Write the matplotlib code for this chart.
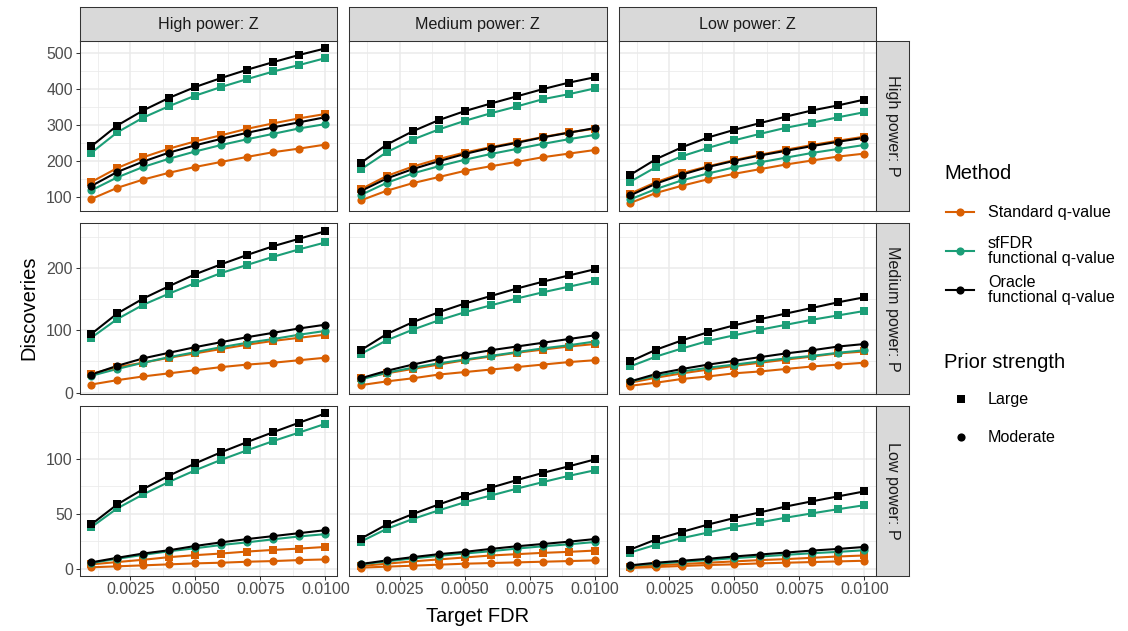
import matplotlib
matplotlib.use("Agg")
import matplotlib.pyplot as plt
from matplotlib.lines import Line2D

plt.rcParams["font.family"] = ["Liberation Sans", "DejaVu Sans"]

# target FDR levels on the x axis
fdr = [0.001, 0.002, 0.003, 0.004, 0.005, 0.006, 0.007, 0.008, 0.009, 0.010]

z_labels = ["High power: Z", "Medium power: Z", "Low power: Z"]
p_labels = ["High power: P", "Medium power: P", "Low power: P"]
x_ticks = [0.0025, 0.0050, 0.0075, 0.0100]
x_ticklabels = ["0.0025", "0.0050", "0.0075", "0.0100"]
y_ticks = [[100, 200, 300, 400, 500], [0, 100, 200], [0, 50, 100]]
y_minor = [[150, 250, 350, 450], [50, 150, 250], [25, 75, 125]]

# discoveries, indexed [P power row][Z power column]
std_large = [
    [[141, 180, 210, 234, 254, 271, 289, 304, 318, 330],
     [121, 158, 184, 205, 223, 238, 252, 266, 279, 289],
     [109, 141, 166, 185, 202, 217, 231, 244, 256, 267]],
    [[30, 41, 48, 56, 63, 70, 77, 83, 88, 93],
     [23, 31, 38, 45, 52, 58, 64, 69, 74, 78],
     [16, 24, 31, 37, 43, 48, 53, 58, 63, 66]],
    [[3.9, 6.0, 8.1, 10.5, 12.3, 13.8, 15.6, 17.1, 18.3, 19.8],
     [2.4, 4.5, 6.6, 8.4, 10.2, 12.0, 13.2, 14.4, 15.3, 16.5],
     [1.5, 3.0, 4.2, 5.4, 6.6, 7.8, 8.7, 9.9, 11.1, 12.0]],
]
std_moderate = [
    [[94, 125, 148, 167, 183, 197, 211, 224, 234, 245],
     [90, 117, 138, 155, 172, 185, 197, 210, 220, 230],
     [83, 111, 131, 149, 164, 177, 190, 201, 212, 220]],
    [[13, 20, 26, 31, 36, 41, 45, 48, 52, 56],
     [12, 18, 23, 29, 33, 37, 41, 45, 49, 52],
     [11, 16, 22, 26, 31, 34, 38, 42, 45, 48]],
    [[1.2, 2.1, 3.0, 3.9, 4.8, 5.4, 6.3, 6.9, 7.8, 8.4],
     [0.9, 1.8, 2.7, 3.6, 4.5, 5.1, 5.7, 6.3, 6.9, 7.5],
     [0.6, 1.5, 2.4, 3.3, 3.9, 4.8, 5.4, 6.0, 6.6, 7.2]],
]
sf_large = [
    [[222, 279, 320, 352, 381, 405, 427, 448, 466, 485],
     [176, 224, 259, 287, 311, 332, 351, 371, 385, 401],
     [142, 183, 213, 236, 257, 275, 292, 306, 321, 335]],
    [[88, 118, 141, 159, 176, 192, 205, 218, 230, 241],
     [62, 84, 101, 116, 129, 140, 151, 161, 170, 179],
     [42, 58, 71, 83, 92, 101, 109, 117, 124, 131]],
    [[37.8, 55.0, 67.8, 79.3, 89.8, 99.4, 108.1, 116.5, 124.3, 132.2],
     [24.6, 36.3, 45.3, 53.2, 60.6, 66.7, 73.0, 79.0, 84.7, 89.8],
     [14.7, 21.9, 27.9, 33.0, 38.1, 42.3, 46.6, 50.5, 54.3, 57.9]],
]
sf_moderate = [
    [[118, 154, 183, 206, 226, 244, 260, 275, 290, 302],
     [105, 139, 165, 185, 203, 219, 233, 247, 260, 272],
     [93, 122, 146, 165, 182, 196, 209, 222, 233, 244]],
    [[27, 38, 48, 57, 65, 73, 80, 86, 93, 99],
     [21, 32, 40, 47, 53, 59, 65, 71, 76, 82],
     [18, 27, 34, 40, 45, 50, 55, 59, 64, 68]],
    [[5.1, 9.0, 12.6, 15.9, 18.6, 21.6, 24.0, 26.8, 29.4, 31.5],
     [3.9, 6.6, 9.3, 11.7, 13.8, 15.9, 18.3, 20.4, 22.2, 24.3],
     [2.7, 4.5, 6.3, 7.8, 9.6, 11.1, 12.6, 14.1, 15.3, 16.8]],
]
oracle_large = [
    [[240, 298, 340, 375, 405, 430, 453, 474, 494, 512],
     [194, 245, 282, 313, 338, 359, 379, 399, 417, 432],
     [161, 205, 238, 265, 286, 305, 323, 340, 354, 370]],
    [[94, 127, 151, 171, 190, 206, 221, 235, 247, 259],
     [68, 94, 113, 129, 143, 155, 167, 178, 188, 198],
     [50, 69, 84, 97, 108, 118, 127, 136, 145, 153]],
    [[40.3, 58.6, 72.7, 85.0, 96.1, 106.3, 115.6, 124.6, 133.3, 141.7],
     [27.3, 40.3, 49.8, 58.6, 66.7, 73.9, 80.8, 87.4, 93.4, 99.7],
     [17.4, 26.7, 33.6, 40.3, 46.2, 51.4, 56.8, 61.5, 66.0, 70.5]],
]
oracle_moderate = [
    [[130, 169, 198, 223, 243, 261, 278, 293, 307, 321],
     [116, 151, 177, 199, 219, 236, 250, 265, 278, 291],
     [104, 137, 162, 183, 200, 215, 228, 241, 253, 264]],
    [[29, 43, 55, 64, 73, 81, 89, 96, 103, 109],
     [23, 35, 45, 54, 61, 68, 74, 80, 86, 92],
     [18, 30, 38, 45, 51, 57, 63, 68, 74, 78]],
    [[5.7, 9.9, 13.8, 16.8, 20.7, 24.0, 27.0, 29.7, 32.4, 35.1],
     [4.2, 7.5, 10.5, 13.2, 15.3, 18.0, 20.4, 22.5, 24.6, 27.0],
     [3.0, 5.4, 7.2, 9.0, 11.1, 12.9, 14.7, 16.5, 18.0, 19.8]],
]

methods = [
    ("Standard q-value", "#D95F02", std_large, std_moderate),
    ("sfFDR\nfunctional q-value", "#1B9E77", sf_large, sf_moderate),
    ("Oracle\nfunctional q-value", "#000000", oracle_large, oracle_moderate),
]

W, H = 1128, 631
fig = plt.figure(figsize=(W / 100, H / 100), dpi=100)


def box(x0, y0, w, h):
    # axes placed in pixel units measured from the top-left corner
    return fig.add_axes([x0 / W, 1 - (y0 + h) / H, w / W, h / H])


def fx(x):
    return x / W


def fy(y):
    return 1 - y / H


col_x = [79.5, 349.0, 618.5]
row_y = [40.7, 223.5, 405.7]
pw, ph = 257.5, 170.0
grey20 = "#333333"
grid = "#EBEBEB"
tick_col = "#4D4D4D"
lw = 1.5
ms_sq, ms_ci = 5.4, 5.9

xlo = fdr[0] - 0.05 * (fdr[-1] - fdr[0])
xhi = fdr[-1] + 0.05 * (fdr[-1] - fdr[0])

for r in range(3):
    vals = []
    for _, _, lg, md in methods:
        for c in range(3):
            vals += lg[r][c] + md[r][c]
    lo, hi = min(vals), max(vals)
    pad = 0.05 * (hi - lo)
    for c in range(3):
        ax = box(col_x[c], row_y[r], pw, ph)
        ax.set_xlim(xlo, xhi)
        ax.set_ylim(lo - pad, hi + pad)
        ax.set_xticks(x_ticks)
        ax.set_xticks([0.00125, 0.00375, 0.00625, 0.00875], minor=True)
        ax.set_yticks(y_ticks[r])
        ax.set_yticks(y_minor[r], minor=True)
        ax.grid(True, which="major", color=grid, lw=1.1, zorder=0)
        ax.grid(True, which="minor", color=grid, lw=0.55, zorder=0)
        ax.set_axisbelow(True)
        for s in ax.spines.values():
            s.set_color(grey20)
            s.set_linewidth(0.75)
            s.set_zorder(5)
        ax.tick_params(which="minor", length=0)
        ax.tick_params(which="major", length=2.8, width=0.75, color=grey20,
                       labelcolor=tick_col, labelsize=11.4, pad=2)
        if c == 0:
            ax.set_yticklabels([str(v) for v in y_ticks[r]])
        else:
            ax.tick_params(axis="y", length=0, labelleft=False)
        if r == 2:
            ax.set_xticklabels(x_ticklabels)
        else:
            ax.tick_params(axis="x", length=0, labelbottom=False)

        # lines first, then points on top
        for _, col, lg, md in methods:
            ax.plot(fdr, lg[r][c], color=col, lw=lw, zorder=2)
            ax.plot(fdr, md[r][c], color=col, lw=lw, zorder=2)
        for _, col, lg, md in methods:
            ax.plot(fdr, lg[r][c], ls="none", marker="s", ms=ms_sq, mew=0,
                    color=col, zorder=3)
            ax.plot(fdr, md[r][c], ls="none", marker="o", ms=ms_ci, mew=0,
                    color=col, zorder=3)

# facet strips
for c in range(3):
    st = box(col_x[c], 7.3, pw, 33.4)
    st.set_facecolor("#D9D9D9")
    st.set_xticks([])
    st.set_yticks([])
    for s in st.spines.values():
        s.set_color(grey20)
        s.set_linewidth(0.75)
    st.text(0.5, 0.5, z_labels[c], ha="center", va="center",
            fontsize=11.6, color="#1A1A1A", transform=st.transAxes)
for r in range(3):
    st = box(876.0, row_y[r], 33.4, ph)
    st.set_facecolor("#D9D9D9")
    st.set_xticks([])
    st.set_yticks([])
    for s in st.spines.values():
        s.set_color(grey20)
        s.set_linewidth(0.75)
    st.text(0.5, 0.5, p_labels[r], ha="center", va="center", rotation=270,
            fontsize=11.6, color="#1A1A1A", transform=st.transAxes)

# axis titles
fig.text(fx(478), fy(617), "Target FDR", ha="center", va="center", fontsize=14.5)
fig.text(fx(29), fy(308), "Discoveries", ha="center", va="center",
         rotation=90, fontsize=14.5)

# legend: method
fig.text(fx(944), fy(174), "Method", ha="left", va="center", fontsize=14.5)
key_y = [212.3, 251.0, 290.0]
for (name, col, _, _), ky in zip(methods, key_y):
    fig.add_artist(Line2D([fx(946), fx(974)], [fy(ky), fy(ky)], color=col,
                          lw=lw, transform=fig.transFigure))
    fig.add_artist(Line2D([fx(960)], [fy(ky)], color=col, marker="o", ms=ms_ci,
                          mew=0, transform=fig.transFigure))
    fig.text(fx(988), fy(ky), name, ha="left", va="center", fontsize=11.6,
             linespacing=1.0)

# legend: prior strength
fig.text(fx(944), fy(362), "Prior strength", ha="left", va="center", fontsize=14.5)
for mk, label, ky, ms in [("s", "Large", 399.3, ms_sq), ("o", "Moderate", 437.3, ms_ci)]:
    fig.add_artist(Line2D([fx(960.7)], [fy(ky)], color="black", marker=mk,
                          ms=ms, mew=0, transform=fig.transFigure))
    fig.text(fx(988), fy(ky), label, ha="left", va="center", fontsize=11.6)

fig.savefig("out.png", dpi=100, facecolor="white")
